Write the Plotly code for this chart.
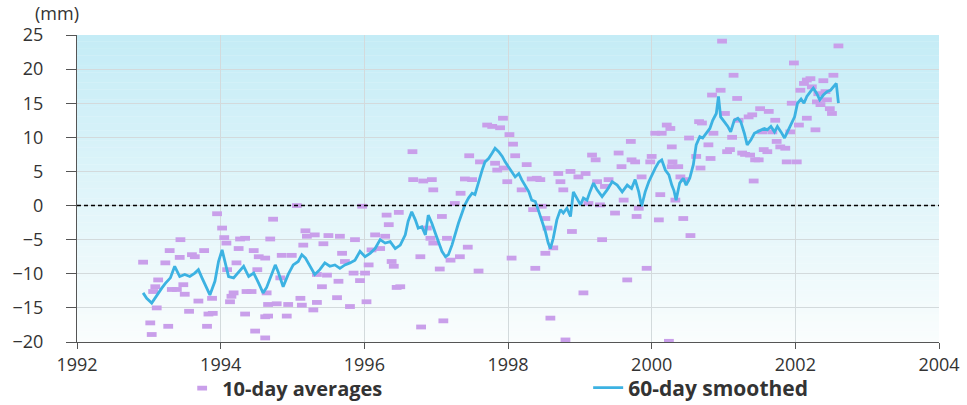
import plotly.graph_objects as go

# 60-day smoothed series (decimal year, mm)
smooth_years = [1992.92, 1992.97, 1993.04, 1993.11, 1993.18, 1993.23, 1993.30, 1993.36, 1993.43, 1993.50,
                1993.57, 1993.64, 1993.69, 1993.74, 1993.81, 1993.85, 1993.92, 1993.97, 1994.02, 1994.06,
                1994.11, 1994.18, 1994.25, 1994.32, 1994.39, 1994.46, 1994.53, 1994.59, 1994.64, 1994.69,
                1994.76, 1994.80, 1994.87, 1994.94, 1995.01, 1995.08, 1995.13, 1995.18, 1995.25, 1995.31,
                1995.38, 1995.45, 1995.52, 1995.59, 1995.66, 1995.73, 1995.80, 1995.87, 1995.94, 1996.01,
                1996.08, 1996.15, 1996.22, 1996.29, 1996.36, 1996.43, 1996.50, 1996.57, 1996.61, 1996.66,
                1996.71, 1996.75, 1996.80, 1996.85, 1996.89, 1996.94, 1996.99, 1997.03, 1997.08, 1997.13,
                1997.17, 1997.22, 1997.26, 1997.31, 1997.36, 1997.40, 1997.45, 1997.50, 1997.54, 1997.59,
                1997.64, 1997.68, 1997.73, 1997.78, 1997.82, 1997.87, 1997.92, 1997.96, 1998.01, 1998.05,
                1998.10, 1998.15, 1998.19, 1998.24, 1998.29, 1998.33, 1998.38, 1998.42, 1998.47, 1998.52,
                1998.56, 1998.59, 1998.63, 1998.68, 1998.73, 1998.77, 1998.82, 1998.87, 1998.91, 1998.96,
                1999.01, 1999.05, 1999.10, 1999.14, 1999.19, 1999.24, 1999.31, 1999.38, 1999.45, 1999.52,
                1999.59, 1999.66, 1999.72, 1999.77, 1999.82, 1999.86, 1999.91, 1999.96, 2000.00, 2000.05,
                2000.10, 2000.14, 2000.19, 2000.24, 2000.28, 2000.31, 2000.34, 2000.39, 2000.44, 2000.48,
                2000.53, 2000.58, 2000.62, 2000.67, 2000.71, 2000.76, 2000.81, 2000.85, 2000.90, 2000.93,
                2000.96, 2001.01, 2001.06, 2001.10, 2001.15, 2001.20, 2001.24, 2001.29, 2001.33, 2001.38,
                2001.43, 2001.47, 2001.52, 2001.57, 2001.61, 2001.66, 2001.71, 2001.75, 2001.80, 2001.85,
                2001.89, 2001.94, 2001.99, 2002.03, 2002.08, 2002.12, 2002.16, 2002.21, 2002.25, 2002.30,
                2002.34, 2002.39, 2002.44, 2002.49, 2002.53, 2002.57, 2002.60]
smooth_values = [-12.8, -13.6, -14.3, -13.1, -12.1, -11.4, -10.6, -8.9, -10.4, -10.1,
                 -10.4, -9.9, -9.4, -10.6, -12.1, -13.1, -11.1, -8.2, -6.5, -8.2,
                 -10.4, -10.6, -9.7, -8.9, -10.4, -9.9, -11.4, -12.8, -12.0, -10.6,
                 -8.7, -9.7, -11.9, -10.1, -8.7, -8.2, -7.2, -7.7, -8.9, -10.1,
                 -9.4, -8.4, -8.9, -8.7, -9.2, -8.7, -8.4, -8.0, -6.7, -7.5,
                 -7.0, -6.3, -5.0, -5.5, -5.3, -6.3, -5.8, -4.3, -2.3, -0.9,
                 -2.1, -3.3, -3.1, -4.3, -1.4, -2.6, -4.1, -5.3, -6.7, -7.5,
                 -7.2, -5.8, -4.3, -2.6, -1.1, 0.1, 1.1, 1.8, 1.6, 3.5,
                 5.2, 6.4, 6.9, 7.7, 8.4, 7.9, 7.2, 6.4, 5.7, 5.0,
                 4.2, 4.7, 3.8, 3.0, 2.0, 0.8, 0.6, -0.6, -2.1, -3.8,
                 -5.5, -6.3, -4.8, -2.1, -0.6, -1.1, -0.4, -1.6, 2.0, 1.1,
                 0.1, 1.1, 0.8, 2.0, 3.3, 2.3, 1.3, 2.3, 3.5, 3.0,
                 2.0, 3.0, 2.5, 3.8, 2.0, -0.1, 2.0, 3.5, 4.5, 5.5,
                 6.4, 6.7, 5.2, 4.5, 3.0, 2.2, 0.8, 3.3, 4.0, 3.0,
                 4.0, 6.0, 8.9, 10.1, 9.9, 10.6, 11.3, 12.5, 13.5, 16.0,
                 13.0, 12.3, 11.6, 10.8, 12.5, 12.8, 12.3, 10.6, 8.9, 9.6,
                 10.6, 10.8, 11.1, 11.3, 11.1, 11.6, 10.8, 11.6, 10.8, 9.9,
                 10.8, 11.8, 13.0, 15.0, 15.6, 15.0, 16.0, 16.7, 17.2, 16.4,
                 15.5, 16.2, 16.7, 16.9, 17.4, 17.9, 15.0]

# 10-day averages (decimal year, mm)
avg_years = [1992.92, 1993.02, 1993.04, 1993.06, 1993.09, 1993.11, 1993.13, 1993.23, 1993.27, 1993.29,
             1993.32, 1993.39, 1993.43, 1993.44, 1993.48, 1993.50, 1993.56, 1993.60, 1993.64, 1993.69,
             1993.77, 1993.81, 1993.83, 1993.88, 1993.89, 1993.95, 1994.02, 1994.05, 1994.08, 1994.09,
             1994.13, 1994.15, 1994.18, 1994.22, 1994.25, 1994.27, 1994.34, 1994.34, 1994.36, 1994.43,
             1994.46, 1994.48, 1994.51, 1994.53, 1994.62, 1994.62, 1994.62, 1994.64, 1994.66, 1994.66,
             1994.69, 1994.73, 1994.78, 1994.83, 1994.85, 1994.92, 1994.94, 1994.99, 1995.06, 1995.11,
             1995.13, 1995.15, 1995.18, 1995.20, 1995.29, 1995.31, 1995.34, 1995.34, 1995.41, 1995.43,
             1995.48, 1995.50, 1995.62, 1995.64, 1995.66, 1995.69, 1995.73, 1995.80, 1995.85, 1995.87,
             1995.94, 1995.97, 1996.01, 1996.03, 1996.06, 1996.10, 1996.15, 1996.22, 1996.29, 1996.31,
             1996.34, 1996.38, 1996.41, 1996.45, 1996.48, 1996.50, 1996.67, 1996.68, 1996.78, 1996.79,
             1996.82, 1996.87, 1996.92, 1996.94, 1996.96, 1996.96, 1997.05, 1997.08, 1997.10, 1997.15,
             1997.20, 1997.26, 1997.33, 1997.34, 1997.40, 1997.44, 1997.46, 1997.50, 1997.59, 1997.61,
             1997.71, 1997.78, 1997.82, 1997.85, 1997.89, 1997.93, 1997.94, 1997.99, 1998.02, 1998.05,
             1998.07, 1998.10, 1998.19, 1998.26, 1998.33, 1998.35, 1998.38, 1998.40, 1998.45, 1998.47,
             1998.52, 1998.52, 1998.55, 1998.59, 1998.63, 1998.70, 1998.73, 1998.77, 1998.80, 1998.87,
             1998.89, 1998.98, 1999.05, 1999.08, 1999.12, 1999.17, 1999.22, 1999.24, 1999.28, 1999.31,
             1999.35, 1999.40, 1999.49, 1999.54, 1999.58, 1999.61, 1999.66, 1999.71, 1999.72, 1999.77,
             1999.79, 1999.82, 1999.86, 1999.93, 1999.98, 2000.00, 2000.05, 2000.10, 2000.12, 2000.14,
             2000.21, 2000.24, 2000.26, 2000.28, 2000.28, 2000.29, 2000.33, 2000.37, 2000.40, 2000.44,
             2000.46, 2000.52, 2000.54, 2000.62, 2000.66, 2000.68, 2000.70, 2000.79, 2000.82, 2000.84,
             2000.86, 2000.96, 2000.98, 2001.02, 2001.05, 2001.09, 2001.12, 2001.14, 2001.19, 2001.21,
             2001.26, 2001.30, 2001.35, 2001.37, 2001.40, 2001.42, 2001.44, 2001.49, 2001.51, 2001.54,
             2001.56, 2001.61, 2001.63, 2001.68, 2001.72, 2001.74, 2001.79, 2001.86, 2001.88, 2001.93,
             2001.95, 2001.98, 2002.02, 2002.05, 2002.07, 2002.12, 2002.16, 2002.16, 2002.21, 2002.23,
             2002.28, 2002.30, 2002.32, 2002.35, 2002.39, 2002.42, 2002.44, 2002.48, 2002.51, 2002.53,
             2002.60]
avg_values = [-8.3, -17.2, -18.9, -12.6, -11.9, -15.0, -10.9, -8.4, -17.7, -6.6,
              -12.3, -12.3, -7.6, -5.0, -11.6, -13.0, -15.5, -7.2, -7.5, -14.0,
              -6.6, -17.7, -15.9, -13.6, -15.8, -1.2, -3.3, -4.7, -5.5, -9.4,
              -14.1, -13.3, -12.8, -8.4, -6.3, -4.9, -4.8, -15.9, -12.6, -12.6,
              -6.6, -18.4, -9.4, -7.5, -16.3, -19.4, -7.7, -12.8, -14.5, -16.2,
              -4.9, -2.0, -14.4, -10.6, -7.3, -16.2, -14.5, -7.3, 0.0, -13.6,
              -14.6, -5.8, -3.7, -4.5, -15.3, -4.3, -14.2, -10.1, -11.9, -5.6,
              -10.2, -4.4, -13.5, -11.1, -4.5, -7.0, -8.2, -14.8, -9.9, -5.0,
              -11.0, -0.1, -9.9, -14.1, -8.7, -6.5, -4.3, -6.3, -4.5, -1.4,
              -2.8, -8.2, -8.9, -12.0, -1.0, -11.9, 7.9, 3.8, -7.5, -17.8,
              3.6, -3.3, -4.8, 3.8, 2.3, -5.5, -9.3, -1.6, -16.9, -4.8,
              -8.0, 0.3, -7.5, 1.8, 3.9, -6.1, 7.3, 3.8, -9.6, 6.4,
              11.8, 11.6, 6.2, 5.2, 11.4, 12.8, 5.5, 3.5, 10.4, -7.7,
              9.0, 7.3, 2.3, 6.0, 3.9, -0.6, -9.2, 4.0, 3.8, -0.1,
              -1.9, -7.0, -3.3, -16.5, -6.2, 4.7, 3.5, 2.3, -19.7, 5.0,
              -3.8, 4.2, -12.8, 4.7, 0.3, 7.4, 6.7, 3.5, 0.1, -5.0,
              2.8, 3.8, -1.1, 7.7, 5.7, 0.8, -10.9, 9.4, 6.7, 6.4,
              -1.6, -0.4, 4.2, -9.2, 6.4, 7.2, 10.6, -2.1, 1.6, 10.6,
              11.8, -19.9, 11.3, 8.6, 5.7, 6.4, 0.8, 5.7, 4.2, -1.9,
              3.8, 9.9, -4.4, 7.2, 12.3, 5.5, 12.1, 8.9, 6.9, 16.2,
              10.6, 16.9, 24.1, 13.5, 7.9, 8.2, 10.0, 19.1, 15.7, 12.5,
              7.7, 7.5, 13.0, 7.4, 13.3, 3.6, 6.7, 6.7, 14.2, 10.8,
              8.2, 7.9, 13.8, 10.8, 12.5, 9.4, 8.6, 8.4, 6.4, 10.8,
              15.0, 20.9, 6.4, 11.8, 16.9, 17.9, 18.4, 12.8, 18.6, 17.4,
              11.1, 15.2, 16.4, 14.8, 18.3, 16.7, 15.5, 14.2, 13.5, 19.1,
              23.4]

y_ticks = [-20, -15, -10, -5, 0, 5, 10, 15, 20, 25]
x_ticks = [1992, 1994, 1996, 1998, 2000, 2002, 2004]

AVG_COLOR = "#c99fea"
LINE_COLOR = "#3cb2e2"
FONT = "'Open Sans', Lato, sans-serif"

fig = go.Figure()

fig.add_trace(go.Scatter(
    x=avg_years, y=avg_values, mode="markers", name="10-day averages",
    legend="legend",
    marker=dict(symbol="line-ew", size=7, color=AVG_COLOR,
                line=dict(color=AVG_COLOR, width=4.8)),
))
fig.add_trace(go.Scatter(
    x=smooth_years, y=smooth_values, mode="lines", name="60-day smoothed",
    legend="legend2",
    line=dict(color=LINE_COLOR, width=2.8),
))

# Background vertical gradient (light cyan at top to near white at bottom)
n = 90
y0, y1 = y_ticks[0], y_ticks[-1]
top = (196, 236, 246)
bot = (250, 253, 253)
shapes = []
for i in range(n):
    t = (i + 0.5) / n
    c = tuple(round(bot[k] + (top[k] - bot[k]) * t) for k in range(3))
    ya = y0 + (y1 - y0) * i / n
    yb = y0 + (y1 - y0) * (i + 1) / n + 0.05
    shapes.append(dict(type="rect", xref="paper", yref="y", x0=0, x1=1,
                       y0=ya, y1=min(yb, y1), line=dict(width=0),
                       fillcolor="rgb(%d,%d,%d)" % c, layer="below"))
# Dashed zero line
shapes.append(dict(type="line", xref="paper", yref="y", x0=0, x1=1, y0=0, y1=0,
                   line=dict(color="#000000", width=1.5, dash="4px,3px"), layer="above"))

legend_font = dict(family=FONT, size=20, color="#333333", weight="bold")

fig.update_layout(
    width=967, height=405,
    margin=dict(l=77, r=28, t=35, b=63, autoexpand=False),
    paper_bgcolor="white", plot_bgcolor="white",
    font=dict(family=FONT, size=16, color="#333333"),
    shapes=shapes,
    showlegend=True,
    legend=dict(orientation="h", x=0.122, y=-0.15, xanchor="left", yanchor="middle",
                font=legend_font, bgcolor="rgba(0,0,0,0)"),
    legend2=dict(orientation="h", x=0.593, y=-0.15, xanchor="left", yanchor="middle",
                 font=dict(family=FONT, size=21, color="#333333", weight="bold"),
                 bgcolor="rgba(0,0,0,0)"),
    annotations=[dict(text="(mm)", xref="paper", yref="paper", x=-0.023, y=1.0,
                      xanchor="center", yanchor="bottom", yshift=8, showarrow=False,
                      font=dict(family=FONT, size=18, color="#333333"))],
)

fig.update_xaxes(range=[x_ticks[0], x_ticks[-1]], tickvals=x_ticks,
                 showgrid=True, gridcolor="#d3dadc", gridwidth=1,
                 showline=True, linecolor="#555555", linewidth=1.2,
                 ticks="outside", ticklen=6, tickcolor="#555555",
                 ticklabelstandoff=0,
                 zeroline=False, tickfont=dict(size=18))
fig.update_yaxes(range=[y0, y1], tickvals=y_ticks,
                 showgrid=True, gridcolor="#d3dadc", gridwidth=1,
                 showline=True, linecolor="#555555", linewidth=1.2,
                 ticks="outside", ticklen=10, tickcolor="#555555",
                 ticklabelstandoff=19,
                 zeroline=False, tickfont=dict(size=18))

fig.write_html("out.html", config={"displayModeBar": False},
               post_script="document.body.style.margin='0';")
